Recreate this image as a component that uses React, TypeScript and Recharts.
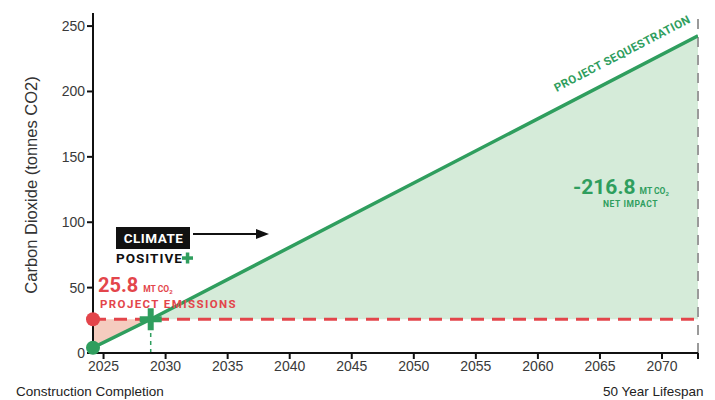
import React from 'react'
import {
  ComposedChart, Area, Line, XAxis, YAxis, ReferenceLine, ReferenceDot
} from 'recharts'

// Project carbon balance over the building lifespan
const years = [2024.15, 2028.8, 2072.9]
const sequestration = [4, 25.8, 242.6]
const emissions = [25.8, 25.8, 25.8]
const breakEvenYear = years[1]
const netImpact = emissions[2] - sequestration[2]

const yTicks = [0, 50, 100, 150, 200, 250]
const xTicks = [years[0], 2025, 2030, 2035, 2040, 2045, 2050, 2055, 2060, 2065, 2070, years[2]]

const GREEN = '#2f9e5e'
const GREEN_FILL = '#d5ebd9'
const RED = '#e3454b'
const RED_FILL = '#f5ccbf'
const TICK_FONT = '"Liberation Sans", Arial, sans-serif'
const BOLD_FONT = 'Roboto, "Liberation Sans", sans-serif'

const rows = years.map((year, i) => ({
  year,
  seq: sequestration[i],
  emis: emissions[i],
  deficit: year <= breakEvenYear ? [sequestration[i], emissions[i]] : null,
  surplus: year >= breakEvenYear ? [emissions[i], sequestration[i]] : null
}))

const PlusMarker = ({ cx, cy }: any) => (
  <g>
    <rect x={cx - 11} y={cy - 3} width={22} height={6} fill={GREEN} />
    <rect x={cx - 3} y={cy - 11} width={6} height={22} fill={GREEN} />
  </g>
)

export default function App() {
  return (
    <div style={{ position: 'absolute', left: 0, top: 0, width: 715, height: 400, background: '#fff' }}>
      <ComposedChart
        width={715}
        height={400}
        data={rows}
        margin={{ top: 13, right: 17, bottom: 17, left: 0 }}
      >
        <XAxis
          type="number"
          dataKey="year"
          domain={[years[0], years[2]]}
          ticks={xTicks}
          tickFormatter={(v: number) => (Number.isInteger(v) ? String(v) : '')}
          height={30}
          tick={{ fontSize: 14, fill: '#3a3a3a', fontFamily: TICK_FONT }}
          axisLine={{ stroke: '#111', strokeWidth: 2 }}
          tickLine={{ stroke: '#111', strokeWidth: 2 }}
          allowDataOverflow
        />
        <YAxis
          type="number"
          domain={[0, 260]}
          ticks={yTicks}
          width={93}
          tick={{ fontSize: 14, fill: '#3a3a3a', fontFamily: TICK_FONT }}
          axisLine={{ stroke: '#111', strokeWidth: 2 }}
          tickLine={{ stroke: '#111', strokeWidth: 2 }}
        />
        <Area
          type="linear"
          dataKey="deficit"
          fill={RED_FILL}
          fillOpacity={1}
          stroke="none"
          isAnimationActive={false}
        />
        <Area
          type="linear"
          dataKey="surplus"
          fill={GREEN_FILL}
          fillOpacity={1}
          stroke="none"
          isAnimationActive={false}
        />
        <ReferenceLine
          x={years[2]}
          stroke="#9a9a9a"
          strokeWidth={2}
          strokeDasharray="10 8"
        />
        <ReferenceLine
          segment={[{ x: breakEvenYear, y: 0 }, { x: breakEvenYear, y: emissions[1] }]}
          stroke={GREEN}
          strokeWidth={1.5}
          strokeDasharray="4 4"
        />
        <Line
          type="linear"
          dataKey="emis"
          stroke={RED}
          strokeWidth={3}
          strokeDasharray="13 8"
          dot={false}
          isAnimationActive={false}
        />
        <Line
          type="linear"
          dataKey="seq"
          stroke={GREEN}
          strokeWidth={3.5}
          dot={false}
          isAnimationActive={false}
        />
        <ReferenceDot x={years[0]} y={emissions[0]} r={7} fill={RED} stroke="none" />
        <ReferenceDot x={years[0]} y={sequestration[0]} r={7} fill={GREEN} stroke="none" />
        <ReferenceDot x={breakEvenYear} y={emissions[1]} shape={PlusMarker} />
      </ComposedChart>

      <svg
        width={715}
        height={400}
        style={{ position: 'absolute', left: 0, top: 0, pointerEvents: 'none' }}
      >
        <text
          transform="translate(37,185) rotate(-90)"
          textAnchor="middle"
          fontSize={16.5}
          fill="#333"
          fontFamily={TICK_FONT}
        >
          Carbon Dioxide (tonnes CO2)
        </text>

        <text x={16} y={396} fontSize={13.5} fill="#222" fontFamily={TICK_FONT}>Construction Completion</text>
        <text x={603} y={396} fontSize={13.5} fill="#222" fontFamily={TICK_FONT}>50 Year Lifespan</text>

        {/* emissions callout */}
        <text x={98} y={292} fill={RED} fontFamily={BOLD_FONT} fontWeight={700}>
          <tspan fontSize={20}>{emissions[0].toFixed(1)}</tspan>
          <tspan fontSize={8.5} dx={5}>MT CO</tspan>
          <tspan fontSize={6} dy={2}>2</tspan>
        </text>
        <text
          x={100}
          y={308}
          fontSize={11.5}
          letterSpacing={1.4}
          fill={RED}
          fontFamily={BOLD_FONT}
          fontWeight={700}
        >
          PROJECT EMISSIONS
        </text>

        {/* climate positive badge */}
        <rect x={116} y={227} width={74} height={22} fill="#111" />
        <text
          x={153.5}
          y={243}
          textAnchor="middle"
          fontSize={13.5}
          letterSpacing={0.5}
          fill="#fff"
          fontFamily={BOLD_FONT}
          fontWeight={700}
        >
          CLIMATE
        </text>
        <text x={116} y={263} fontSize={13.5} letterSpacing={1} fill="#111" fontFamily={BOLD_FONT} fontWeight={700}>
          POSITIVE
        </text>
        <rect x={182} y={256.3} width={11} height={3.5} fill={GREEN} />
        <rect x={185.8} y={252.5} width={3.5} height={11} fill={GREEN} />
        <line x1={193} y1={234} x2={258} y2={234} stroke="#111" strokeWidth={1.8} />
        <polygon points="256,229 269,234 256,239" fill="#111" />

        {/* sequestration label along the line */}
        <text
          transform="translate(624,57) rotate(-27.4)"
          textAnchor="middle"
          fontSize={11.5}
          letterSpacing={0.4}
          fill={GREEN}
          fontFamily={BOLD_FONT}
          fontWeight={700}
        >
          PROJECT SEQUESTRATION
        </text>

        {/* net impact callout */}
        <text x={573} y={194} fill={GREEN} fontFamily={BOLD_FONT} fontWeight={700}>
          <tspan fontSize={21}>{netImpact.toFixed(1)}</tspan>
          <tspan fontSize={8.5} dx={4}>MT CO</tspan>
          <tspan fontSize={6} dy={2}>2</tspan>
        </text>
        <text
          x={603}
          y={207}
          fontSize={8.5}
          letterSpacing={0.6}
          fill={GREEN}
          fontFamily={BOLD_FONT}
          fontWeight={700}
        >
          NET IMPACT
        </text>
      </svg>
    </div>
  )
}
